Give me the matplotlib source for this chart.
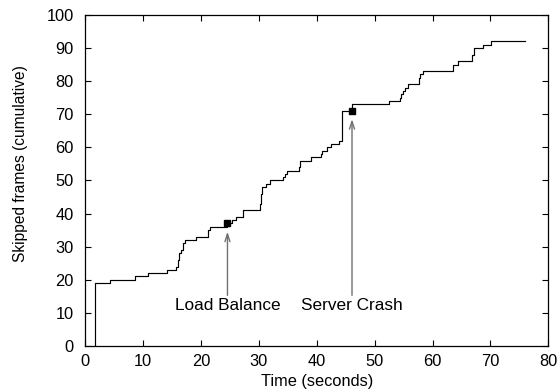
import matplotlib
matplotlib.use("Agg")
import matplotlib.pyplot as plt

# Data (cumulative skipped frames, step changes)
time_s = [1.8, 1.8, 4.4, 8.6, 10.8, 14.1, 15.8, 16.0, 16.3, 16.6, 16.9, 17.2, 19.1,
          21.3, 21.6, 24.6, 25.3, 26.0, 27.2, 30.2, 30.4, 30.6, 31.3, 31.9, 34.2,
          34.5, 34.8, 36.9, 37.1, 39.0, 40.8, 41.0, 41.7, 42.4, 43.8, 44.3, 46.1,
          52.5, 54.4, 54.6, 54.9, 55.2, 55.7, 57.6, 57.9, 58.3, 63.5, 64.4, 66.8,
          67.2, 68.7, 70.1, 76.0]
frames = [0, 19, 20, 21, 22, 23, 24, 26, 28, 29, 31, 32, 33,
          35, 36, 37, 38, 39, 41, 43, 46, 48, 49, 50, 51,
          52, 53, 54, 56, 57, 58, 59, 60, 61, 62, 71, 73,
          74, 75, 76, 77, 78, 79, 81, 82, 83, 85, 86, 88,
          90, 91, 92, 92]

event_x = [24.6, 46.1]
event_y = [37, 71]
event_labels = ["Load Balance", "Server Crash"]

x_ticks = [0, 10, 20, 30, 40, 50, 60, 70, 80]
y_ticks = [0, 10, 20, 30, 40, 50, 60, 70, 80, 90, 100]

plt.rcParams['font.family'] = ['Liberation Sans', 'DejaVu Sans']
FS = 11.8

fig = plt.figure(figsize=(5.59, 3.91), dpi=100)
ax = fig.add_axes([0.152, 0.115, 0.829, 0.847])

ax.plot(time_s, frames, drawstyle='steps-post', color='black', lw=0.85)
ax.plot(event_x, event_y, linestyle='none', marker='s', markersize=4.5,
        color='black')

for ex, ey, lab in zip(event_x, event_y, event_labels):
    ax.annotate('', xy=(ex, ey - 2.5), xytext=(ex, 15.3),
                arrowprops=dict(arrowstyle='->,head_length=0.55,head_width=0.18',
                                color='#707070', lw=1.0, shrinkA=0, shrinkB=0))
    ax.text(ex, 10.8, lab, ha='center', va='baseline', fontsize=12.4, color='black')

ax.set_xlim(0, 80)
ax.set_ylim(0, 100)
ax.set_xticks(x_ticks)
ax.set_yticks(y_ticks)
ax.tick_params(direction='in', length=4.5, width=0.8, top=True, right=True,
               labelsize=FS, colors='black')
ax.tick_params(axis='x', pad=5.5)
ax.tick_params(axis='y', pad=8)
for s in ax.spines.values():
    s.set_linewidth(0.9)
    s.set_color('black')

ax.set_xlabel('Time (seconds)', fontsize=FS)
ax.xaxis.set_label_coords(0.502, -0.108)
ax.xaxis.label.set_va('center')
ax.set_ylabel('Skipped frames (cumulative)', fontsize=11.2)
ax.yaxis.set_label_coords(-0.140, 0.551)
ax.yaxis.label.set_va('center')

fig.savefig('out.png', dpi=100)
